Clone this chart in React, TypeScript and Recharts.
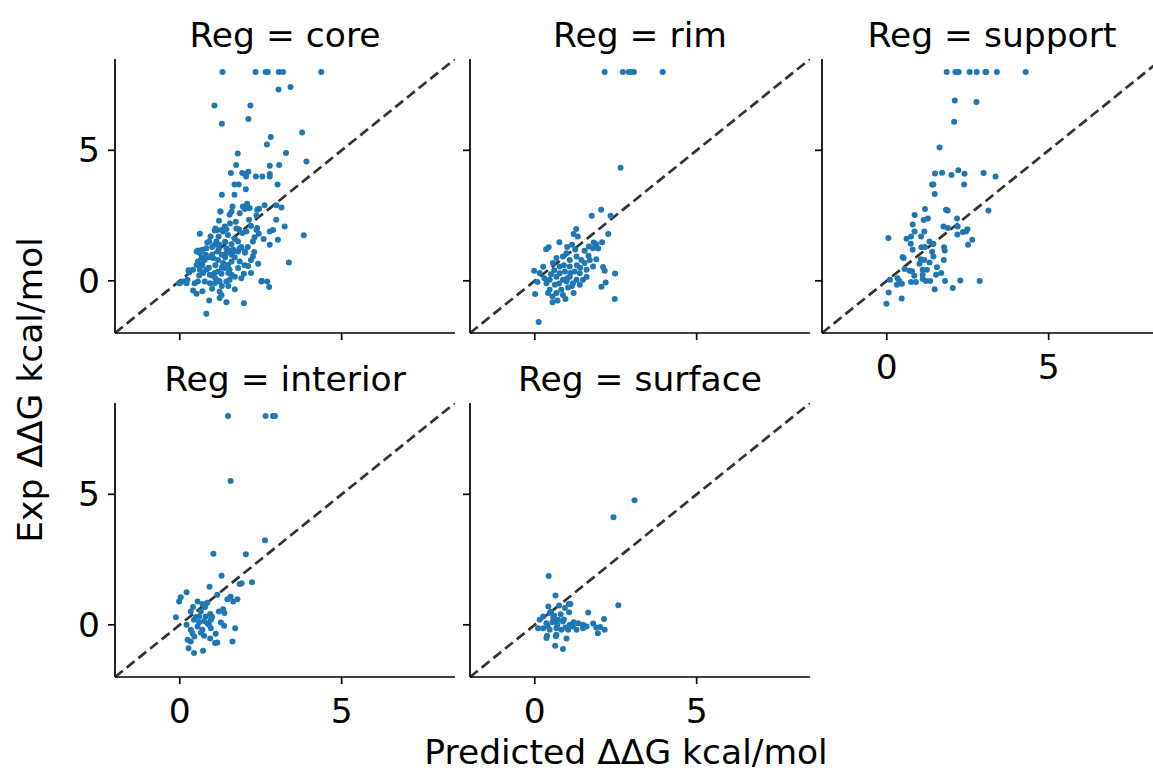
import React from 'react'
import { ReferenceLine, Scatter, ScatterChart, XAxis, YAxis } from 'recharts'

// facet order, same as the reference grid (3 columns)
const regions = ['core', 'rim', 'support', 'interior', 'surface']
const axisTicks = [0, 5]
const axisDomain: [number, number] = [-2, 8.5]

const corePts: [number, number][] = [
  [1.32, 8], [2.34, 8], [2.65, 8], [2.72, 8], [3.06, 8], [3.19, 8], [4.37, 8],
  [3.42, 7.43], [3.05, 7.33], [1.07, 6.72], [2.18, 6.72], [1.3, 6.02], [2.12, 6.2], [3.78, 5.68], [2.81, 5.51],
  [2.69, 5.22], [1.79, 4.88], [3.28, 4.9], [3.91, 4.57], [1.74, 4.44], [2.78, 4.41], [3.07, 4.44], [1.58, 4.13],
  [1.93, 4.13], [2.02, 4.09], [2.12, 4.18], [2.05, 4.0], [2.35, 4.0], [2.55, 4.0], [2.78, 4.09], [2.78, 4.0],
  [1.69, 3.69], [1.82, 3.69], [2.04, 3.51], [3.02, 3.69], [1.3, 3.3], [1.69, 3.3],
  [1.63, 2.85], [1.6, 2.66], [1.54, 2.53], [1.26, 2.66], [1.85, 2.59], [1.95, 2.85], [2.08, 2.95], [2.08, 2.79],
  [2.01, 2.75], [2.16, 2.79], [2.39, 2.72], [2.45, 2.76], [2.62, 2.9], [2.98, 2.9], [3.14, 2.81], [2.37, 2.5],
  [2.14, 2.34], [1.21, 2.3], [1.39, 2.08], [1.44, 1.98], [1.73, 2.26], [1.08, 1.93], [1.15, 1.95], [1.29, 1.95],
  [1.34, 1.89], [1.83, 1.98], [1.93, 1.83], [2.06, 1.89], [1.49, 1.76], [0.62, 1.8], [2.37, 1.95], [2.44, 1.8],
  [2.31, 1.67], [2.39, 2.02], [2.98, 2.34], [3.24, 2.08], [2.88, 1.95], [2.78, 1.89], [3.83, 1.75], [2.59, 1.6],
  [2.78, 1.38], [3.03, 1.57], [2.26, 1.51], [1.8, 1.51], [1.7, 1.6], [0.85, 1.47], [0.91, 1.51], [1.13, 1.51],
  [1.23, 1.38], [1.08, 1.38], [1.44, 1.25], [1.54, 1.16], [1.65, 1.19], [1.85, 1.25], [2.01, 1.12], [0.57, 1.16],
  [0.7, 1.19], [0.82, 1.25], [0.52, 1.12], [0.62, 1.06], [1.18, 1.12], [1.44, 1.06], [1.65, 1.12], [1.8, 1.12],
  [2.01, 1.08], [2.26, 0.93], [0.56, 0.74], [0.67, 0.87], [0.77, 0.8], [1.03, 0.87], [1.18, 0.8], [1.34, 0.68],
  [1.49, 0.61], [1.6, 0.74], [1.85, 0.74], [1.8, 0.49], [0.52, 0.61], [0.41, 0.42], [0.31, 0.39], [0.29, 0.32],
  [0.62, 0.42], [0.72, 0.3], [0.82, 0.42], [0.93, 0.23], [1.08, 0.3], [1.18, 0.36], [1.29, 0.27], [1.39, 0.49],
  [1.54, 0.42], [1.6, 0.23], [1.7, 0.16], [1.54, 0.04], [1.44, -0.03], [1.23, -0.03], [1.08, -0.09], [0.93, -0.09],
  [0.77, -0.03], [0.56, -0.03], [0.46, -0.09], [0.21, -0.09], [0.1, -0.03], [0.0, -0.09], [1.98, 0.27], [2.42, 0.65],
  [2.11, 0.57], [3.37, 0.7], [2.52, -0.03], [2.7, -0.03], [2.76, -0.24], [1.7, -0.32], [0.41, -0.37], [0.52, -0.5],
  [1.23, -0.41], [1.29, -0.54], [1.23, -0.66], [1.44, -0.82], [0.91, -0.75], [1.98, -0.86], [0.82, -1.26], [0.27, 0.4],
  [0.19, -0.03], [0.24, 0.04], [-0.02, -0.09], [2.53, 0.0], [1.25, 2.66], [1.0, 1.0], [1.1, 0.6], [1.3, 1.0],
  [0.9, 0.9], [1.2, 1.2], [1.4, 0.9], [1.5, 0.3], [0.7, 0.6], [1.1, 0.1], [0.9, 0.5], [1.6, 1.0], [1.7, 0.9],
  [1.3, 0.5], [0.8, 1.0], [1.0, 1.3], [1.9, 1.3], [2.1, 1.3], [1.4, 1.5], [1.6, 1.4], [1.2, 1.7], [1.1, 2.0],
  [1.0, 0.2], [1.2, 0.0], [0.6, 0.2], [1.5, -0.2], [1.3, -0.2], [0.7, -0.4], [1.0, -0.3], [2.0, 0.6], [2.2, 0.8],
  [2.3, 1.1], [1.9, 0.1], [2.2, 0.3], [0.95, 1.7], [1.75, 2.0], [1.55, 2.2], [2.2, 2.1],
]

const rimPts: [number, number][] = [
  [2.16, 8], [2.72, 8], [2.9, 8], [2.97, 8], [3.06, 8], [3.95, 8],
  [2.65, 4.33], [2.05, 2.72], [1.76, 2.49], [2.34, 2.49], [1.28, 1.99], [1.2, 1.79], [1.33, 1.7], [2.27, 1.79],
  [0.76, 1.48], [1.15, 1.38], [0.35, 1.21], [0.43, 1.29], [1.82, 1.47], [1.67, 1.31], [1.9, 1.4], [2.08, 1.48],
  [1.96, 1.24], [1.8, 1.25], [1.54, 1.15], [1.66, 0.96], [1.9, 0.83], [1.8, 0.55], [2.11, 0.53], [2.16, 0.39],
  [2.48, 0.28], [2.19, -0.06], [2.06, -0.23], [2.47, -0.7], [-0.02, 0.39], [0.15, 0.3], [0.26, 0.54], [0.08, -0.05],
  [0.01, -0.51], [0.41, -0.47], [0.55, -0.82], [0.12, -1.58], [0.67, 0.87], [0.87, 0.93], [0.98, 1.06], [1.08, 0.8],
  [1.29, 0.93], [1.44, 0.8], [1.54, 0.68], [1.08, 0.55], [0.77, 0.55], [0.56, 0.68], [0.67, 0.16], [0.87, 0.04],
  [1.08, 0.16], [1.29, 0.04], [1.49, 0.04], [1.39, -0.15], [1.18, -0.09], [0.98, -0.03], [0.46, 0.04], [0.36, -0.09],
  [0.62, -0.15], [0.82, -0.34], [0.67, -0.47], [0.87, -0.54], [0.46, -0.34], [1.2, -0.47], [1.03, -0.26], [1.39, 0.29],
  [1.6, 0.42], [0.77, 0.29], [1.23, 0.36], [0.93, 0.36], [0.9, 0.6], [1.1, 0.3], [0.6, 0.4], [1.3, 0.6], [1.0, 0.1],
  [0.75, -0.1], [1.15, -0.2], [0.5, 0.25], [1.6, 0.15], [1.4, 0.5], [0.3, 0.1], [1.7, 0.8], [1.25, 1.2], [1.0, 1.3],
  [0.55, -0.6], [0.95, -0.7], [0.7, -0.75],
]

const supportPts: [number, number][] = [
  [1.85, 8], [2.12, 8], [2.17, 8], [2.22, 8], [2.56, 8], [2.78, 8], [3.05, 8], [3.07, 8], [3.4, 8], [4.29, 8],
  [2.1, 6.91], [2.77, 6.85], [2.08, 6.1], [1.63, 5.11], [1.49, 4.11], [1.71, 4.14], [2.0, 4.05], [2.21, 4.24],
  [2.4, 4.1], [2.99, 4.13], [3.36, 4.0], [1.4, 3.69], [1.44, 3.69], [2.39, 3.69], [1.48, 3.33], [1.18, 2.75],
  [1.83, 2.72], [1.88, 2.69], [3.14, 2.69], [0.86, 2.52], [1.14, 2.33], [1.27, 2.39], [2.17, 2.39], [0.8, 2.16],
  [0.86, 1.89], [1.16, 1.89], [1.06, 1.7], [1.75, 2.08], [1.89, 2.02], [2.19, 2.08], [2.18, 1.77], [2.35, 1.87],
  [2.45, 1.89], [2.49, 1.98], [2.64, 1.57], [2.51, 1.38], [0.05, 1.64], [0.61, 1.61], [0.75, 1.7], [0.74, 1.42],
  [0.8, 1.19], [1.32, 1.51], [1.44, 1.41], [1.07, 1.29], [1.18, 1.3], [1.4, 1.11], [1.44, 0.93], [1.77, 1.29],
  [1.79, 1.16], [1.76, 0.8], [0.49, 0.91], [0.52, 0.87], [1.05, 0.83], [1.16, 0.8], [1.32, 0.7], [1.01, 0.65],
  [1.11, 0.42], [1.24, 0.42], [1.55, 0.52], [1.68, 0.3], [1.52, 0.23], [0.55, 0.45], [0.7, 0.39], [0.78, 0.37],
  [0.85, 0.19], [1.11, 0.23], [1.11, 0.07], [0.1, 0.04], [0.33, 0.1], [0.39, -0.01], [0.31, -0.15], [0.47, -0.11],
  [0.75, -0.05], [0.9, -0.05], [1.21, -0.01], [1.34, -0.01], [1.8, -0.01], [2.27, 0.01], [2.87, -0.01], [1.48, -0.32],
  [2.04, -0.28], [0.06, -0.45], [0.46, -0.68], [-0.01, -0.88],
]

const interiorPts: [number, number][] = [
  [1.49, 8], [2.65, 8], [2.88, 8], [2.94, 8], [1.57, 5.51], [2.63, 3.24], [1.04, 2.72], [2.04, 2.7], [1.29, 1.88],
  [0.92, 1.46], [1.85, 1.56], [1.91, 1.59], [2.23, 1.63], [0.21, 1.25], [0.03, 1.06], [-0.02, 0.89], [1.16, 1.15],
  [1.47, 0.98], [1.57, 1.08], [1.65, 0.89], [1.78, 0.98], [0.55, 0.89], [0.7, 0.8], [0.85, 0.85], [0.41, 0.68],
  [0.78, 0.68], [0.65, 0.51], [0.34, 0.51], [0.94, 0.41], [1.34, 0.6], [1.38, 0.45], [1.21, 0.51], [-0.12, 0.29],
  [0.21, 0.0], [0.44, 0.19], [0.6, 0.32], [0.8, 0.32], [0.96, 0.19], [0.55, -0.06], [0.7, -0.19], [0.85, 0.06],
  [0.96, -0.13], [0.34, -0.19], [0.39, -0.32], [1.27, 0.09], [1.37, -0.04], [1.71, -0.13], [1.11, -0.34],
  [0.94, -0.52], [0.75, -0.42], [1.09, -0.7], [1.16, -0.68], [1.63, -0.64], [0.24, -0.57], [0.34, -0.64],
  [0.27, -0.9], [0.44, -1.08], [0.72, -0.99], [0.6, 0.1], [0.75, 0.15], [0.5, 0.3], [0.9, 0.0], [0.65, -0.3],
  [1.0, 0.3], [0.45, -0.45],
]

const surfacePts: [number, number][] = [
  [3.08, 4.77], [2.43, 4.12], [0.43, 1.87], [0.64, 1.12], [2.58, 0.75], [0.42, 0.7], [0.75, 0.74], [1.05, 0.8],
  [1.1, 0.8], [0.93, 0.64], [1.06, 0.48], [1.65, 0.47], [2.14, 0.22], [2.02, -0.08], [2.16, -0.19], [1.95, -0.32],
  [0.15, 0.19], [0.26, 0.32], [0.46, 0.45], [0.57, 0.26], [0.72, 0.19], [0.62, 0.13], [0.87, 0.13], [1.08, 0.0],
  [1.18, -0.06], [1.34, 0.06], [1.49, 0.0], [1.6, -0.06], [0.36, 0.06], [0.1, -0.13], [0.26, -0.13], [0.46, -0.19],
  [0.67, -0.13], [0.82, -0.19], [1.03, -0.19], [1.29, -0.19], [1.49, -0.13], [0.38, -0.42], [0.36, -0.51],
  [0.67, -0.38], [0.65, -0.44], [0.98, -0.52], [0.63, -0.8], [0.87, -0.93], [0.5, 0.5], [0.8, 0.4], [0.9, 0.2],
  [0.55, 0.1], [0.7, 0.0], [1.2, 0.1], [0.4, -0.05], [0.95, -0.1], [0.6, 0.35], [1.8, 0.05], [1.9, -0.1],
]

const regionPts = [corePts, rimPts, supportPts, interiorPts, surfacePts]

const FONT = '"DejaVu Sans", Verdana, sans-serif'
const BLUE = '#1f77b4'
const FS = 34.5
const PW = 340
const PH = 274
const YW = 60
const XH = 60

// plot-area corners of each facet, in page pixels
const layout = [
  { left: 115, top: 59, xLabels: false, yLabels: true },
  { left: 470, top: 59, xLabels: false, yLabels: false },
  { left: 822, top: 59, xLabels: true, yLabels: false },
  { left: 115, top: 403, xLabels: true, yLabels: true },
  { left: 470, top: 403, xLabels: true, yLabels: false },
]

function Dot(p: any) {
  if (p.cx == null || p.cy == null) return null
  return <circle cx={p.cx} cy={p.cy} r={3} fill={BLUE} />
}

function XTick({ x, y, payload, show }: any) {
  if (!show) return null
  return (
    <text x={x} y={y + 37} textAnchor="middle" fontSize={FS} fontFamily={FONT} fill="#000">
      {payload.value}
    </text>
  )
}

function YTick({ x, y, payload, show }: any) {
  if (!show) return null
  return (
    <text x={x - 6} y={y + 12} textAnchor="end" fontSize={FS} fontFamily={FONT} fill="#000">
      {payload.value}
    </text>
  )
}

function Facet({ idx }: { idx: number }) {
  const l = layout[idx]
  const data = regionPts[idx].map(([x, y]) => ({ x, y }))
  return (
    <div style={{ position: 'absolute', left: l.left - YW, top: l.top }}>
      <ScatterChart width={YW + PW} height={PH + XH} margin={{ top: 0, right: 0, bottom: 0, left: 0 }}>
        <XAxis
          type="number"
          dataKey="x"
          domain={axisDomain}
          ticks={axisTicks}
          allowDataOverflow
          height={XH}
          tickSize={7}
          tickMargin={2}
          tick={<XTick show={l.xLabels} />}
          axisLine={{ stroke: '#000', strokeWidth: 1.7 }}
          tickLine={{ stroke: '#000', strokeWidth: 1.7 }}
        />
        <YAxis
          type="number"
          dataKey="y"
          domain={axisDomain}
          ticks={axisTicks}
          allowDataOverflow
          width={YW}
          tickSize={7}
          tickMargin={2}
          tick={<YTick show={l.yLabels} />}
          axisLine={{ stroke: '#000', strokeWidth: 1.7 }}
          tickLine={{ stroke: '#000', strokeWidth: 1.7 }}
        />
        <Scatter data={data} fill={BLUE} shape={<Dot />} isAnimationActive={false} />
        <ReferenceLine
          segment={[{ x: -2, y: -2 }, { x: 8.5, y: 8.5 }]}
          stroke="#333"
          strokeWidth={2.7}
          strokeDasharray="10 5"
          ifOverflow="visible"
        />
      </ScatterChart>
    </div>
  )
}

export default function App() {
  return (
    <div
      style={{
        position: 'absolute', left: 0, top: 0, width: 1153, height: 773,
        overflow: 'hidden', background: '#fff', fontFamily: FONT,
      }}
    >
      {regions.map((r, i) => <Facet key={r} idx={i} />)}
      <svg width={1153} height={773} style={{ position: 'absolute', left: 0, top: 0, pointerEvents: 'none' }}>
        {regions.map((r, i) => (
          <text
            key={r}
            x={layout[i].left + PW / 2}
            y={layout[i].top - 12}
            textAnchor="middle"
            fontSize={FS}
            fontFamily={FONT}
            fill="#000"
          >
            {`Reg = ${r}`}
          </text>
        ))}
        <text transform="translate(42, 390) rotate(-90)" textAnchor="middle" fontSize={FS} fontFamily={FONT} fill="#000">
          Exp ΔΔG kcal/mol
        </text>
        <text x={626} y={764} textAnchor="middle" fontSize={FS} fontFamily={FONT} fill="#000">
          Predicted ΔΔG kcal/mol
        </text>
      </svg>
    </div>
  )
}
